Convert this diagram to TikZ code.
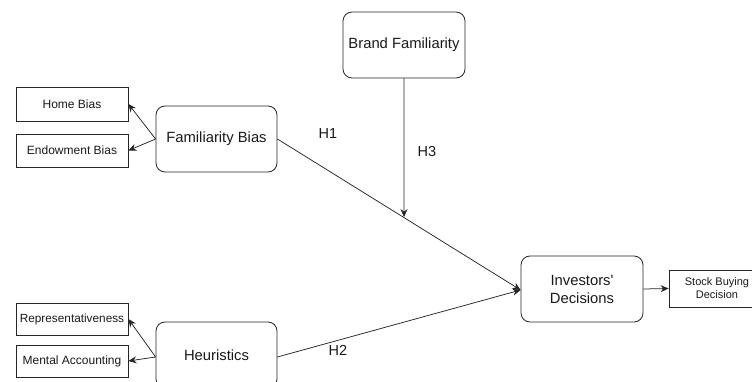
\documentclass[tikz,border=0pt]{standalone}
\usepackage{fontspec}
\setmainfont{Liberation Sans}
\usetikzlibrary{arrows.meta,calc}
\begin{document}
\begin{tikzpicture}[x=1pt,y=-1pt,
  rbox/.style={draw=black!85,line width=0.8pt,rounded corners=9pt,inner sep=0pt,align=center,
    font=\fontsize{14.8}{18}\selectfont,text=black!90},
  sbox/.style={draw=black!85,line width=0.8pt,inner sep=0pt,align=center,
    font=\fontsize{12}{13}\selectfont,text=black!90},
  lbl/.style={inner sep=0pt,font=\fontsize{14.5}{17}\selectfont,text=black!90},
  conn/.style={draw=black!85,line width=0.75pt,-{Stealth[length=8pt,width=7pt]}}]
\useasboundingbox (0,0) rectangle (752,382);
\clip (0,0) rectangle (752,382);
\node[rbox,minimum width=122pt,minimum height=66pt] (brand) at (404,45) {Brand Familiarity};
\node[rbox,minimum width=121pt,minimum height=66pt] (fam) at (216.5,139) {Familiarity Bias};
\node[rbox,minimum width=121pt,minimum height=66pt] (heur) at (216.5,355) {Heuristics};
\node[rbox,minimum width=122pt,minimum height=66pt] (inv) at (582,289) {Investors\textquotesingle\\Decisions};
\node[sbox,minimum width=112pt,minimum height=34pt] (home) at (72,104) {Home Bias};
\node[sbox,minimum width=112pt,minimum height=33pt] (endow) at (72,150.5) {Endowment Bias};
\node[sbox,minimum width=112pt,minimum height=32pt,font=\fontsize{11.8}{13}\selectfont] (repr) at (72,319) {Representativeness};
\node[sbox,minimum width=112pt,minimum height=32pt] (mental) at (72,361) {Mental Accounting};
\node[sbox,minimum width=96pt,minimum height=37pt,font=\fontsize{11}{13}\selectfont] (stock) at (717,288.5) {Stock Buying\\Decision};
\node[lbl] (h1) at (328,134) {H1};
\node[lbl] (h3) at (427,152) {H3};
\node[lbl] (h2) at (338,350) {H2};
\draw[conn] (fam.west) -- (home.east);
\draw[conn] (fam.west) -- (endow.east);
\draw[conn] ([yshift=-2pt]heur.west) -- (repr.east);
\draw[conn] ([yshift=-2pt]heur.west) -- (mental.east);
\draw[conn] (fam.east) -- ([yshift=-1pt]inv.west);
\draw[conn] ([yshift=-2pt]heur.east) -- ([yshift=-1pt]inv.west);
\coordinate (h3pt) at (intersection of fam.east--inv.west and brand.south--brand.center);
\draw[conn] (brand.south) -- (h3pt);
\draw[conn] (inv.east) -- (stock.west);
\end{tikzpicture}
\end{document}
